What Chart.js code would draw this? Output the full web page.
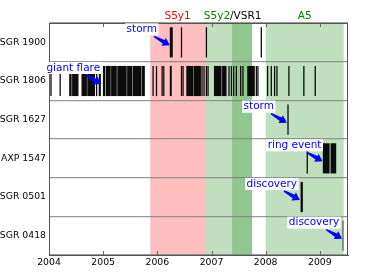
<!DOCTYPE html>
<html>
<head>
<meta charset="utf-8">
<script src="https://cdn.jsdelivr.net/npm/chart.js@4.4.1/dist/chart.umd.min.js"></script>
<style>
  html, body { margin: 0; padding: 0; background: #fff; }
  #wrap { width: 373px; height: 275px; }
</style>
</head>
<body>
<div id="wrap"><canvas id="timeline"></canvas></div>
<script>
// rows, top to bottom
const sources = ['SGR 1900', 'SGR 1806', 'SGR 1627', 'AXP 1547', 'SGR 0501', 'SGR 0418'];

// burst activity per source, [start, end] in decimal years (single bursts: start == end)
const sgr1900 = [[2006.23, 2006.285], [2006.446, 2006.446], [2006.906, 2006.906], [2007.92, 2007.92]];
const sgr1806 = [
  [2004.037, 2004.037], [2004.203, 2004.21], [2004.372, 2004.418], [2004.426, 2004.545],
  [2004.60, 2004.70], [2004.706, 2004.85], [2004.879, 2004.879], [2004.918, 2004.958],
  [2004.995, 2005.035], [2005.045, 2005.14], [2005.146, 2005.252], [2005.26, 2005.435],
  [2005.442, 2005.54], [2005.546, 2005.708], [2005.715, 2005.77], [2005.922, 2005.922],
  [2005.985, 2005.985], [2006.088, 2006.088], [2006.119, 2006.119], [2006.230, 2006.267],
  [2006.446, 2006.446], [2006.475, 2006.475], [2006.535, 2006.66], [2006.667, 2006.805],
  [2006.825, 2006.825], [2006.862, 2006.862], [2006.906, 2006.906], [2006.936, 2006.936],
  [2007.045, 2007.185], [2007.195, 2007.278], [2007.323, 2007.323], [2007.367, 2007.367],
  [2007.409, 2007.409], [2007.459, 2007.459], [2007.539, 2007.539], [2007.581, 2007.581],
  [2007.66, 2007.80], [2007.828, 2007.828], [2007.857, 2007.857], [2008.036, 2008.036],
  [2008.104, 2008.104], [2008.165, 2008.165], [2008.208, 2008.208], [2008.429, 2008.429],
  [2008.705, 2008.705], [2008.915, 2008.915]
];
const sgr1627 = [[2008.405, 2008.42]];
const axp1547 = [[2008.768, 2008.768], [2009.055, 2009.18], [2009.198, 2009.302]];
const sgr0501 = [[2008.644, 2008.687]];
const sgr0418 = [[2009.418, 2009.436]];

// detector science runs, decimal years
const runNames = ['S5y1', 'S5y2', 'VSR1', 'A5'];
const runStart = [2005.87, 2006.88, 2007.38, 2008.0];
const runEnd = [2006.88, 2007.75, 2007.75, 2009.44];

// run labels above the plot
const runLabels = [['S5y1'], ['S5y2', '/VSR1'], ['A5']];
const runLabelYears = [2006.375, 2007.39, 2008.72];

const xTicks = [2004, 2005, 2006, 2007, 2008, 2009];

// annotations: text, source row, year pointed at
const noteText = ['storm', 'giant flare', 'storm', 'ring event', 'discovery', 'discovery'];
const noteSource = ['SGR 1900', 'SGR 1806', 'SGR 1627', 'AXP 1547', 'SGR 0501', 'SGR 0418'];
const noteYear = [2006.23, 2004.965, 2008.39, 2009.05, 2008.63, 2009.41];

// ---- styles ----
const FONT = 'DejaVu Sans';
const runFill = ['rgba(255,0,0,0.25)', 'rgba(0,128,0,0.25)', 'rgba(0,128,0,0.25)', 'rgba(0,128,0,0.25)'];
const runLabelColors = [['#ff0000'], ['#008000', '#000000'], ['#008000']];
const barColors = ['rgba(0,0,0,0.95)', 'rgba(0,0,0,0.95)', 'rgba(0,0,0,0.95)',
                   'rgba(0,0,0,0.95)', 'rgba(0,0,0,0.95)', 'rgba(0,0,0,0.55)'];
const minBurst = 0.024; // drawn width of a single burst, years

Chart.defaults.font.family = FONT;
Chart.defaults.font.size = 9.3;
Chart.defaults.color = '#000';

const rowEvents = [sgr1900, sgr1806, sgr1627, axp1547, sgr0501, sgr0418];

const datasets = sources.map((name, i) => ({
  label: name,
  data: rowEvents[i].map(([a, b]) => {
    const mid = (a + b) / 2;
    return { x: (b - a < minBurst) ? [mid - minBurst / 2, mid + minBurst / 2] : [a, b], y: name };
  }),
  backgroundColor: barColors[i],
  borderWidth: 0,
  grouped: false,
  categoryPercentage: 1,
  barPercentage: 0.78
}));

// shaded run periods, under the grid
const runShading = {
  id: 'runShading',
  beforeDraw(chart) {
    const { ctx, chartArea: a, scales: { x } } = chart;
    ctx.save();
    runNames.forEach((n, i) => {
      const x0 = x.getPixelForValue(runStart[i]);
      const x1 = x.getPixelForValue(runEnd[i]);
      ctx.fillStyle = runFill[i];
      ctx.fillRect(x0, a.top, x1 - x0, a.bottom - a.top);
    });
    ctx.restore();
  }
};

function drawArrow(ctx, x0, y0, x1, y1) {
  const ang = Math.atan2(y1 - y0, x1 - x0);
  const len = Math.hypot(x1 - x0, y1 - y0);
  const headL = 7, headW = 4.5, w0 = 0.8, w1 = 2;
  const c = Math.cos(ang), s = Math.sin(ang);
  const px = (d, w) => [x0 + c * d - s * w, y0 + s * d + c * w];
  const pts = [px(0, -w0), px(len - headL, -w1), px(len - headL, -headW), px(len, 0),
               px(len - headL, headW), px(len - headL, w1), px(0, w0)];
  ctx.beginPath();
  ctx.moveTo(pts[0][0], pts[0][1]);
  pts.slice(1).forEach(p => ctx.lineTo(p[0], p[1]));
  ctx.closePath();
  ctx.fill();
}

// frame, inside ticks, run labels and annotations
const overlay = {
  id: 'overlay',
  afterDraw(chart) {
    const { ctx, chartArea: a, scales: { x, y } } = chart;
    ctx.save();

    // inside tick marks top and bottom
    ctx.strokeStyle = '#666';
    ctx.lineWidth = 1;
    xTicks.forEach(v => {
      const px = Math.round(x.getPixelForValue(v)) + 0.5;
      ctx.beginPath();
      ctx.moveTo(px, a.top); ctx.lineTo(px, a.top + 4);
      ctx.moveTo(px, a.bottom); ctx.lineTo(px, a.bottom - 4);
      ctx.stroke();
    });

    // frame
    ctx.strokeStyle = '#555';
    ctx.strokeRect(a.left + 0.5, a.top + 0.5, a.right - a.left - 1, a.bottom - a.top);

    // run labels
    ctx.font = '10.5px "' + FONT + '"';
    ctx.textBaseline = 'alphabetic';
    ctx.textAlign = 'left';
    runLabels.forEach((parts, i) => {
      const total = parts.reduce((w, t) => w + ctx.measureText(t).width, 0);
      let cx = x.getPixelForValue(runLabelYears[i]) - total / 2;
      parts.forEach((t, j) => {
        ctx.fillStyle = runLabelColors[i][j];
        ctx.fillText(t, cx, a.top - 4);
        cx += ctx.measureText(t).width;
      });
    });

    // annotations
    ctx.textBaseline = 'middle';
    ctx.textAlign = 'center';
    noteText.forEach((t, i) => {
      const tx = x.getPixelForValue(noteYear[i]);
      const ty = y.getPixelForValue(sources.indexOf(noteSource[i])) + 3;
      const cx = tx - 28, cy = ty - 16;
      const w = ctx.measureText(t).width + 3, h = 12;
      ctx.fillStyle = '#fff';
      ctx.fillRect(cx - w / 2, cy - h / 2, w, h);
      ctx.fillStyle = '#0000ff';
      ctx.fillText(t, cx, cy);
      // arrow leaves the box edge on the line from box centre to tip
      const dx = tx - cx, dy = ty - cy;
      const f = Math.min((w / 2) / Math.abs(dx), (h / 2) / Math.abs(dy));
      const d = Math.hypot(dx, dy);
      const sx = cx + dx * f + dx / d * 2, sy = cy + dy * f + dy / d * 2;
      drawArrow(ctx, sx, sy, tx, ty);
    });
    ctx.restore();
  }
};

new Chart(document.getElementById('timeline'), {
  type: 'bar',
  data: { labels: sources, datasets: datasets },
  options: {
    indexAxis: 'y',
    responsive: true,
    maintainAspectRatio: false,
    animation: false,
    layout: { padding: { top: 23, right: 25, left: 0, bottom: 0 } },
    plugins: { legend: { display: false }, tooltip: { enabled: false } },
    scales: {
      x: {
        type: 'linear',
        min: 2004,
        max: 2009.52,
        afterBuildTicks: s => { s.ticks = xTicks.map(v => ({ value: v })); },
        afterFit: s => { s.height = 20; },
        ticks: { callback: v => String(v), padding: 2, maxRotation: 0 },
        grid: { display: false, drawTicks: false },
        border: { display: true, color: '#444' }
      },
      y: {
        type: 'category',
        afterFit: s => { s.width = 49; },
        ticks: { padding: 3 },
        grid: { color: 'rgba(128,128,128,0.8)', lineWidth: 1.2, drawTicks: false },
        border: { display: true, color: '#888' }
      }
    }
  },
  plugins: [runShading, overlay]
});
</script>
</body>
</html>
